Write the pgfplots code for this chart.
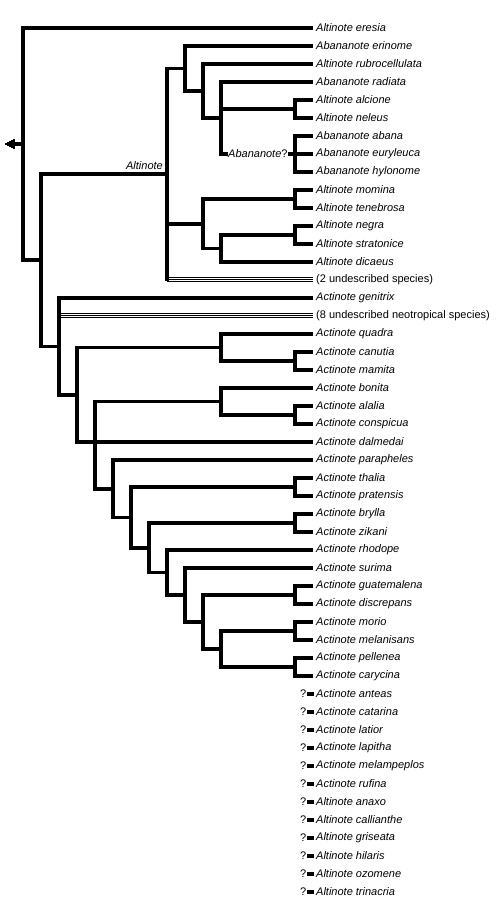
\documentclass[border=0pt]{standalone}
\usepackage{pgfplots}
\pgfplotsset{compat=1.18}
\usepackage{fontspec}
\setmainfont{Liberation Sans}
\begin{document}
\begin{tikzpicture}
\begin{axis}[
  width=498bp, height=903bp, scale only axis, hide axis,
  xmin=0, xmax=498, ymin=0, ymax=903, y dir=reverse, clip=false,
  unbounded coords=jump,
]
% ---- thick branches (each path: child end -- node -- node -- child end) ----
\addplot[black, line width=3.8bp, line join=miter] coordinates {
 (313,28) (23,28) (23,260) (41,260) (nan,nan)
 (14,144) (23,144) (nan,nan)
 (167,174.25) (41,174.25) (41,346.5) (59,346.5) (nan,nan)
 % Altinote clade
 (185,68.5) (167,68.5) (167,281.3) (nan,nan)
 (167,223.75) (203,223.75) (nan,nan)
 (313,46) (185,46) (185,91) (203,91) (nan,nan)
 (313,64) (203,64) (203,118) (221,118) (nan,nan)
 (313,82) (221,82) (221,154) (313,154) (nan,nan)
 (221,109) (295,109) (nan,nan)
 (313,100) (295,100) (295,118) (313,118) (nan,nan)
 (313,136) (295,136) (295,172) (313,172) (nan,nan)
 (295,199) (203,199) (203,248.5) (221,248.5) (nan,nan)
 (313,190) (295,190) (295,208) (313,208) (nan,nan)
 (295,235) (221,235) (221,262) (313,262) (nan,nan)
 (313,226) (295,226) (295,244) (313,244) (nan,nan)
 % Actinote clade
 (313,298) (59,298) (59,394.75) (77,394.75) (nan,nan)
 (221,347.5) (77,347.5) (77,442) (313,442) (nan,nan)
 (313,334) (221,334) (221,361) (295,361) (nan,nan)
 (313,352) (295,352) (295,370) (313,370) (nan,nan)
 (221,401.5) (95,401.5) (95,488.7) (113,488.7) (nan,nan)
 (313,388) (221,388) (221,415) (295,415) (nan,nan)
 (313,406) (295,406) (295,424) (313,424) (nan,nan)
 (313,460) (113,460) (113,517.4) (131,517.4) (nan,nan)
 (295,487) (131,487) (131,547.75) (149,547.75) (nan,nan)
 (313,478) (295,478) (295,496) (313,496) (nan,nan)
 (295,523) (149,523) (149,572.5) (167,572.5) (nan,nan)
 (313,514) (295,514) (295,532) (313,532) (nan,nan)
 (313,550) (167,550) (167,595) (185,595) (nan,nan)
 (313,568) (185,568) (185,622) (203,622) (nan,nan)
 (295,595) (203,595) (203,649) (221,649) (nan,nan)
 (313,586) (295,586) (295,604) (313,604) (nan,nan)
 (295,631) (221,631) (221,667) (295,667) (nan,nan)
 (313,622) (295,622) (295,640) (313,640) (nan,nan)
 (313,658) (295,658) (295,676) (313,676)
};
% root arrow head
\addplot[black, fill=black, line width=0pt] coordinates {(5,144) (14,139.5) (14,148.5)} -- cycle;
% ---- triple lines for undescribed species ----
\addplot[black, line width=0.8bp] coordinates {
 (167,277.8) (313,277.8) (nan,nan) (167,279.5) (313,279.5) (nan,nan) (167,281.2) (313,281.2) (nan,nan)
 (59,313.8) (313,313.8) (nan,nan) (59,315.5) (313,315.5) (nan,nan) (59,317.2) (313,317.2)
};
% ---- unplaced taxa bars ----
\addplot[black, line width=3.6bp] coordinates {
 (307,694) (314,694) (nan,nan) (307,712) (314,712) (nan,nan)
 (307,730) (314,730) (nan,nan) (307,748) (314,748) (nan,nan)
 (307,766) (314,766) (nan,nan) (307,784) (314,784) (nan,nan)
 (307,802) (314,802) (nan,nan) (307,820) (314,820) (nan,nan)
 (307,838) (314,838) (nan,nan) (307,856) (314,856) (nan,nan)
 (307,874) (314,874) (nan,nan) (307,892) (314,892)
};
% ---- labels ----
\begin{scope}[every node/.style={anchor=west, inner sep=0pt, font=\fontsize{11bp}{13bp}\selectfont\itshape}]
\node at (axis cs:316,28) {Altinote eresia};
\node at (axis cs:316,46) {Abananote erinome};
\node at (axis cs:316,64) {Altinote rubrocellulata};
\node at (axis cs:316,82) {Abananote radiata};
\node at (axis cs:316,100) {Altinote alcione};
\node at (axis cs:316,118) {Altinote neleus};
\node at (axis cs:316,136) {Abananote abana};
\node at (axis cs:316,154) {Abananote euryleuca};
\node at (axis cs:316,172) {Abananote hylonome};
\node at (axis cs:316,190) {Altinote momina};
\node at (axis cs:316,208) {Altinote tenebrosa};
\node at (axis cs:316,226) {Altinote negra};
\node at (axis cs:316,244) {Altinote stratonice};
\node at (axis cs:316,262) {Altinote dicaeus};
\node[font=\fontsize{11bp}{13bp}\selectfont\upshape] at (axis cs:316,280) {(2 undescribed species)};
\node at (axis cs:316,298) {Actinote genitrix};
\node[font=\fontsize{11bp}{13bp}\selectfont\upshape] at (axis cs:316,316) {(8 undescribed neotropical species)};
\node at (axis cs:316,334) {Actinote quadra};
\node at (axis cs:316,352) {Actinote canutia};
\node at (axis cs:316,370) {Actinote mamita};
\node at (axis cs:316,388) {Actinote bonita};
\node at (axis cs:316,406) {Actinote alalia};
\node at (axis cs:316,424) {Actinote conspicua};
\node at (axis cs:316,442) {Actinote dalmedai};
\node at (axis cs:316,460) {Actinote parapheles};
\node at (axis cs:316,478) {Actinote thalia};
\node at (axis cs:316,496) {Actinote pratensis};
\node at (axis cs:316,514) {Actinote brylla};
\node at (axis cs:316,532) {Actinote zikani};
\node at (axis cs:316,550) {Actinote rhodope};
\node at (axis cs:316,568) {Actinote surima};
\node at (axis cs:316,586) {Actinote guatemalena};
\node at (axis cs:316,604) {Actinote discrepans};
\node at (axis cs:316,622) {Actinote morio};
\node at (axis cs:316,640) {Actinote melanisans};
\node at (axis cs:316,658) {Actinote pellenea};
\node at (axis cs:316,676) {Actinote carycina};
\node at (axis cs:316,694) {Actinote anteas};
\node at (axis cs:316,712) {Actinote catarina};
\node at (axis cs:316,730) {Actinote latior};
\node at (axis cs:316,748) {Actinote lapitha};
\node at (axis cs:316,766) {Actinote melampeplos};
\node at (axis cs:316,784) {Actinote rufina};
\node at (axis cs:316,802) {Altinote anaxo};
\node at (axis cs:316,820) {Altinote callianthe};
\node at (axis cs:316,838) {Altinote griseata};
\node at (axis cs:316,856) {Altinote hilaris};
\node at (axis cs:316,874) {Altinote ozomene};
\node at (axis cs:316,892) {Altinote trinacria};
\end{scope}
\begin{scope}[every node/.style={anchor=east, inner sep=0pt, font=\fontsize{11bp}{13bp}\selectfont}]
\node at (axis cs:306.5,694) {?};
\node at (axis cs:306.5,712) {?};
\node at (axis cs:306.5,730) {?};
\node at (axis cs:306.5,748) {?};
\node at (axis cs:306.5,766) {?};
\node at (axis cs:306.5,784) {?};
\node at (axis cs:306.5,802) {?};
\node at (axis cs:306.5,820) {?};
\node at (axis cs:306.5,838) {?};
\node at (axis cs:306.5,856) {?};
\node at (axis cs:306.5,874) {?};
\node at (axis cs:306.5,892) {?};
\end{scope}
\node[anchor=west, fill=white, inner xsep=0.5pt, inner ysep=1pt, font=\fontsize{11bp}{13bp}\selectfont] at (axis cs:227.5,154) {\itshape Abananote\upshape ?};
\node[anchor=base east, inner sep=0pt, font=\fontsize{11bp}{13bp}\selectfont\itshape] at (axis cs:163,170) {Altinote};
\end{axis}
\pgfresetboundingbox
\path (0,0) rectangle (498bp,903bp);
\end{tikzpicture}
\end{document}
